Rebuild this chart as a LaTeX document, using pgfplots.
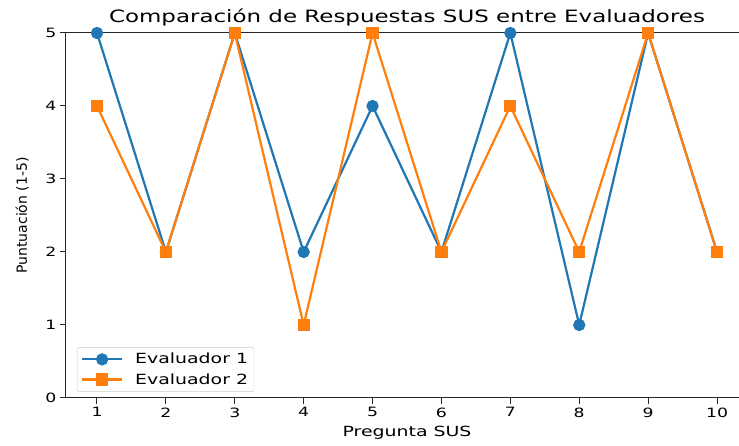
\documentclass[border=0pt]{standalone}
\usepackage{pgfplots}
\pgfplotsset{compat=1.18}
\usepackage{fontspec}
\setmainfont[FakeStretch=1.35]{DejaVu Sans}
\newfontfamily\plainfont{DejaVu Sans}
\definecolor{tabblue}{HTML}{1F77B4}
\definecolor{taborange}{HTML}{FF7F0E}
\begin{document}
\begin{tikzpicture}
\begin{axis}[
  scale only axis,
  width=682pt, height=365pt,
  xmin=0.55, xmax=10.45, ymin=0, ymax=5,
  axis x line=box, axis y line=left,
  axis line style={-, black!85, line width=1pt},
  xtick={1,...,10}, ytick={0,...,5},
  tick align=outside, tick pos=left,
  major tick length=6pt,
  every tick/.style={black!85, line width=1pt},
  /pgf/number format/assume math mode=true,
  tick label style={font=\fontsize{12.8}{15}\selectfont},
  title={Comparación de Respuestas SUS entre Evaluadores},
  title style={font=\fontsize{17}{20}\selectfont, yshift=-3pt},
  xlabel={Pregunta SUS},
  ylabel={\plainfont\fontsize{14}{16}\selectfont Puntuación (1-5)},
  xlabel style={font=\fontsize{14}{16}\selectfont, yshift=-2pt},
  ylabel style={yshift=10pt},
  legend style={at={(0.016,0.017)}, anchor=south west, font=\fontsize{14}{16}\selectfont,
    draw=black!20, rounded corners=2pt, row sep=4pt, inner sep=4pt,
    /tikz/every odd column/.append style={column sep=10pt}},
  legend cell align=left,
  legend image code/.code={\draw[mark repeat=2,mark phase=2] plot coordinates {(0cm,0cm)(0.7cm,0cm)(1.4cm,0cm)};},
  clip=false,
]
\addplot[tabblue, line width=2.2pt, mark=*, mark size=5pt, mark options={solid}]
  coordinates {(1,5)(2,2)(3,5)(4,2)(5,4)(6,2)(7,5)(8,1)(9,5)(10,2)};
\addlegendentry{Evaluador 1}
\addplot[taborange, line width=2.2pt, mark=square*, mark size=5pt, mark options={solid}]
  coordinates {(1,4)(2,2)(3,5)(4,1)(5,5)(6,2)(7,4)(8,2)(9,5)(10,2)};
\addlegendentry{Evaluador 2}
\end{axis}
\pgfresetboundingbox
\useasboundingbox (-66pt,-48pt) rectangle (673pt,398pt);
\end{tikzpicture}
\end{document}
